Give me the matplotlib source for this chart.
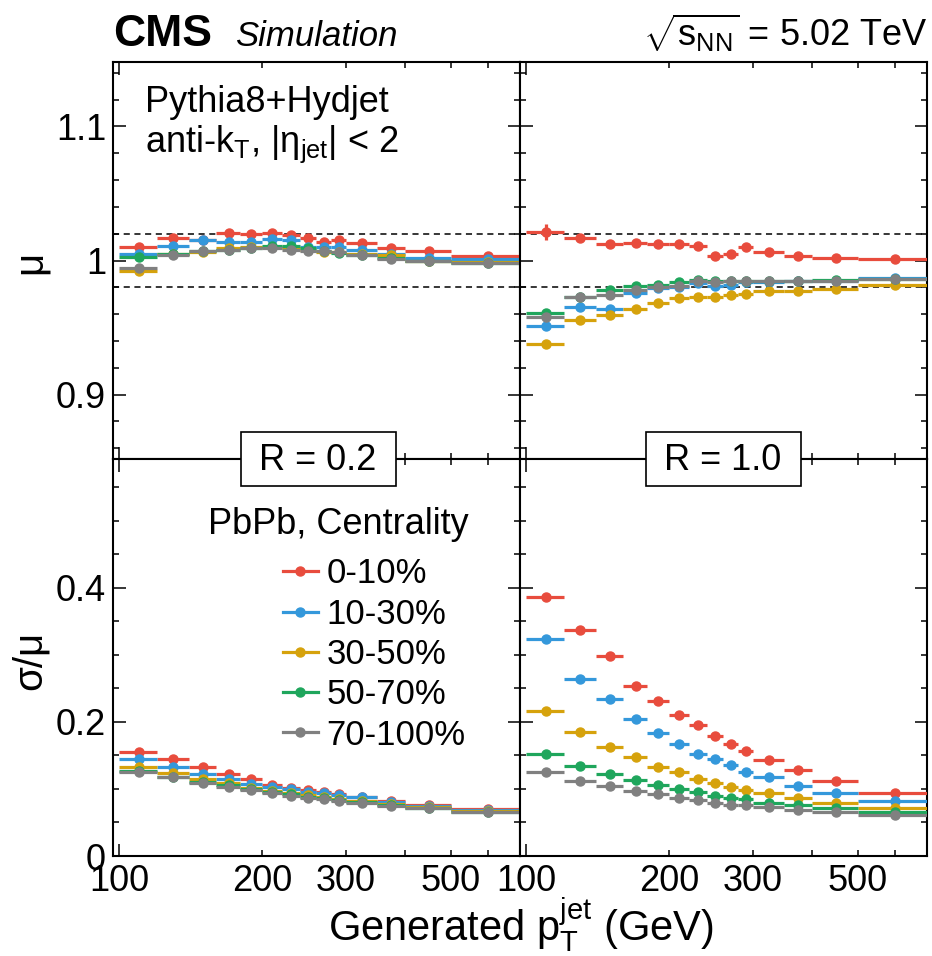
import numpy as np
import matplotlib
matplotlib.use('Agg')
import matplotlib.pyplot as plt
from matplotlib.lines import Line2D
from matplotlib.patches import Rectangle
from matplotlib.ticker import FixedLocator, FuncFormatter, MultipleLocator

plt.rcParams['font.family'] = ['Liberation Sans', 'DejaVu Sans']
plt.rcParams['mathtext.fontset'] = 'custom'
plt.rcParams['mathtext.rm'] = 'Liberation Sans'
plt.rcParams['mathtext.it'] = 'Liberation Sans:italic'
plt.rcParams['mathtext.bf'] = 'Liberation Sans:bold'

# ── data ─────────────────────────────────────────────────────────────────────
pt_edges = [100, 120, 140, 160, 180, 200, 220, 240, 260, 280, 300, 350, 400, 500, 700]
pt_centers = [110, 130, 150, 170, 190, 210, 230, 250, 270, 290, 325, 375, 450, 600]

centralities = ['0-10%', '10-30%', '30-50%', '50-70%', '70-100%']
colors = ['#e84c3d', '#3498db', '#d6a20c', '#1fa65c', '#808080']

# mean response mu, R = 0.2
mu_r02_0_10 = [1.010, 1.017, 1.0155, 1.0208, 1.0195, 1.0208, 1.019, 1.017, 1.014, 1.015, 1.013, 1.009, 1.007, 1.003]
mu_r02_10_30 = [1.0045, 1.011, 1.015, 1.014, 1.014, 1.016, 1.015, 1.010, 1.010, 1.010, 1.008, 1.005, 1.002, 1.001]
mu_r02_30_50 = [0.9925, 1.0045, 1.006, 1.009, 1.010, 1.010, 1.009, 1.0075, 1.006, 1.006, 1.005, 1.004, 1.000, 0.999]
mu_r02_50_70 = [1.0025, 1.0045, 1.007, 1.0075, 1.009, 1.011, 1.011, 1.009, 1.007, 1.0055, 1.004, 1.002, 1.000, 0.998]
mu_r02_70_100 = [0.9945, 1.004, 1.007, 1.008, 1.009, 1.009, 1.008, 1.007, 1.007, 1.006, 1.004, 1.001, 0.9995, 0.998]

# mean response mu, R = 1.0
mu_r10_0_10 = [1.021, 1.017, 1.012, 1.013, 1.012, 1.012, 1.011, 1.0035, 1.0045, 1.010, 1.006, 1.0035, 1.0018, 1.0008]
mu_r10_10_30 = [0.951, 0.965, 0.964, 0.976, 0.9795, 0.980, 0.983, 0.981, 0.982, 0.984, 0.984, 0.9845, 0.985, 0.987]
mu_r10_30_50 = [0.938, 0.9555, 0.959, 0.964, 0.9685, 0.972, 0.973, 0.973, 0.9745, 0.975, 0.9775, 0.9775, 0.979, 0.982]
mu_r10_50_70 = [0.961, 0.9725, 0.978, 0.981, 0.982, 0.984, 0.9858, 0.985, 0.985, 0.9845, 0.9845, 0.985, 0.9855, 0.986]
mu_r10_70_100 = [0.958, 0.9725, 0.9745, 0.978, 0.980, 0.981, 0.985, 0.984, 0.9845, 0.985, 0.9845, 0.985, 0.985, 0.986]
mu_r10_0_10_err = [0.006, 0.002, 0.001, 0.001, 0.001, 0.001, 0.001, 0.001, 0.001, 0.001, 0.001, 0.001, 0.001, 0.001]

# resolution sigma/mu, R = 0.2
res_r02_0_10 = [0.1548, 0.1448, 0.1324, 0.1224, 0.1149, 0.106, 0.102, 0.0985, 0.095, 0.0925, 0.0885, 0.0825, 0.076, 0.0697]
res_r02_10_30 = [0.1443, 0.1324, 0.1224, 0.1149, 0.1075, 0.1035, 0.0995, 0.096, 0.0935, 0.0905, 0.0876, 0.081, 0.0746, 0.0687]
res_r02_30_50 = [0.1333, 0.1243, 0.1149, 0.1085, 0.102, 0.0975, 0.0945, 0.0905, 0.0876, 0.085, 0.0825, 0.0776, 0.0727, 0.0676]
res_r02_50_70 = [0.1269, 0.1184, 0.111, 0.106, 0.100, 0.096, 0.0925, 0.0885, 0.086, 0.0836, 0.0806, 0.0761, 0.0711, 0.0661]
res_r02_70_100 = [0.1249, 0.1174, 0.1094, 0.1035, 0.0985, 0.0945, 0.0896, 0.0861, 0.085, 0.0825, 0.0796, 0.0751, 0.0721, 0.0661]

# resolution sigma/mu, R = 1.0
res_r10_0_10 = [0.387, 0.337, 0.2985, 0.254, 0.2313, 0.2104, 0.195, 0.1796, 0.1672, 0.1567, 0.1438, 0.128, 0.1124, 0.0935]
res_r10_10_30 = [0.3239, 0.2637, 0.2348, 0.204, 0.1836, 0.1677, 0.1522, 0.1448, 0.1358, 0.1254, 0.1184, 0.105, 0.094, 0.0826]
res_r10_30_50 = [0.2159, 0.185, 0.1632, 0.1483, 0.1328, 0.1249, 0.1149, 0.1095, 0.103, 0.099, 0.0935, 0.0866, 0.0786, 0.0711]
res_r10_50_70 = [0.1517, 0.1348, 0.1224, 0.1129, 0.1065, 0.100, 0.095, 0.090, 0.0866, 0.0846, 0.0796, 0.0761, 0.0711, 0.0662]
res_r10_70_100 = [0.1254, 0.1124, 0.1045, 0.0975, 0.092, 0.0871, 0.0836, 0.0796, 0.0766, 0.0756, 0.0736, 0.0687, 0.0662, 0.0612]

mu_r02 = [mu_r02_0_10, mu_r02_10_30, mu_r02_30_50, mu_r02_50_70, mu_r02_70_100]
mu_r10 = [mu_r10_0_10, mu_r10_10_30, mu_r10_30_50, mu_r10_50_70, mu_r10_70_100]
res_r02 = [res_r02_0_10, res_r02_10_30, res_r02_30_50, res_r02_50_70, res_r02_70_100]
res_r10 = [res_r10_0_10, res_r10_10_30, res_r10_30_50, res_r10_50_70, res_r10_70_100]

# ── figure ───────────────────────────────────────────────────────────────────
W, H = 932, 956
fig = plt.figure(figsize=(W / 100, H / 100), dpi=100)

x0, xm, x1 = 113 / W, 520 / W, 927 / W
yt, ym, yb = 1 - 62 / H, 1 - 459 / H, 1 - 856 / H
ax_tl = fig.add_axes([x0, ym, xm - x0, yt - ym])
ax_tr = fig.add_axes([xm, ym, x1 - xm, yt - ym])
ax_bl = fig.add_axes([x0, yb, xm - x0, ym - yb])
ax_br = fig.add_axes([xm, yb, x1 - xm, ym - yb])

x = np.array(pt_centers)
edges = np.array(pt_edges)
xerr = [x - edges[:-1], edges[1:] - x]

FS = 26
ms, elw = 6.5, 2.3


def draw(ax, series, yerrs=None):
    for i, (vals, c) in enumerate(zip(series, colors)):
        yerr = yerrs[i] if yerrs is not None else None
        ax.errorbar(x, vals, xerr=xerr, yerr=yerr, fmt='o', color=c, ms=ms,
                    elinewidth=elw, capsize=0, zorder=3 + i)


draw(ax_tl, mu_r02)
draw(ax_tr, mu_r10, [mu_r10_0_10_err, None, None, None, None])
draw(ax_bl, res_r02)
draw(ax_br, res_r10)

for ax in (ax_tl, ax_tr):
    ax.axhline(1.02, color='black', lw=1.1, ls=(0, (4, 3)), zorder=1)
    ax.axhline(0.98, color='black', lw=1.1, ls=(0, (4, 3)), zorder=1)
    ax.set_ylim(0.852, 1.148)
    ax.yaxis.set_major_locator(MultipleLocator(0.1))
    ax.yaxis.set_minor_locator(MultipleLocator(0.02))

for ax in (ax_bl, ax_br):
    ax.set_ylim(0, 0.5925)
    ax.yaxis.set_major_locator(MultipleLocator(0.2))
    ax.yaxis.set_minor_locator(MultipleLocator(0.05))

minor_fmt = FuncFormatter(lambda v, _: f'{v:g}' if round(v) in (200, 300, 500) else '')
for ax in (ax_tl, ax_tr, ax_bl, ax_br):
    ax.set_xscale('log')
    ax.set_xlim(97, 700)
    ax.xaxis.set_major_locator(FixedLocator([100]))
    ax.xaxis.set_minor_locator(FixedLocator([200, 300, 400, 500, 600, 700]))
    ax.xaxis.set_major_formatter(FuncFormatter(lambda v, _: f'{v:g}'))
    ax.xaxis.set_minor_formatter(minor_fmt)
    ax.yaxis.set_major_formatter(FuncFormatter(lambda v, _: f'{v:g}'))
    ax.tick_params(which='both', direction='in', top=True, right=True,
                   labelsize=FS, width=1.1)
    ax.tick_params(which='major', length=9)
    ax.tick_params(which='minor', length=4.5)
    ax.tick_params(axis='x', which='both', pad=6)
    ax.tick_params(axis='y', which='both', pad=5)
    for s in ax.spines.values():
        s.set_linewidth(1.5)

for ax in (ax_tl, ax_tr):
    ax.tick_params(axis='x', which='both', labelbottom=False)
for ax in (ax_tr, ax_br):
    ax.tick_params(axis='y', which='both', labelleft=False)

# axis titles
fig.text(30 / W, 1 - 262 / H, 'μ', fontsize=FS + 3, rotation=90, ha='center', va='center')
fig.text(30 / W, 1 - 660 / H, 'σ/μ', fontsize=FS + 3, rotation=90, ha='center', va='center')
fig.text(521 / W, 1 - 941 / H, r'Generated $\mathregular{p_{T}^{jet}}$ (GeV)', fontsize=FS + 4,
         ha='center', va='baseline')

# header
fig.text(113 / W, 1 - 46 / H, 'CMS', fontsize=32, fontweight='bold', ha='left', va='baseline')
fig.text(235 / W, 1 - 46 / H, 'Simulation', fontsize=25, style='italic', ha='left', va='baseline')
fig.text(927 / W, 1 - 46 / H, r'$\sqrt{\mathregular{s_{NN}}}$ = 5.02 TeV', fontsize=FS,
         ha='right', va='baseline')

# panel texts
ax_tl.text(0.079, 0.898, 'Pythia8+Hydjet', transform=ax_tl.transAxes, fontsize=FS,
           ha='left', va='center')
ax_tl.text(0.079, 0.792, r'anti-k$_{\mathregular{T}}$, |η$_{\mathregular{jet}}$| < 2',
           transform=ax_tl.transAxes, fontsize=FS, ha='left', va='center')

for cx, label in ((318, 'R = 0.2'), (723, 'R = 1.0')):
    fig.patches.append(Rectangle(((cx - 77) / W, 1 - 486 / H), 155 / W, 54 / H,
                                 transform=fig.transFigure, facecolor='white',
                                 edgecolor='black', lw=1.2, zorder=10))
    fig.text(cx / W, 1 - 460 / H, label, fontsize=FS, ha='center', va='center', zorder=11)

# legend
ax_bl.text(0.233, 0.836, 'PbPb, Centrality', transform=ax_bl.transAxes, fontsize=FS,
           ha='left', va='center')
handles = [Line2D([], [], color=c, marker='o', ms=ms, lw=elw) for c in colors]
ax_bl.legend(handles, centralities, loc='upper left', bbox_to_anchor=(0.418, 0.752),
             frameon=False, fontsize=FS - 1, handlelength=1.0, handletextpad=0.25,
             labelspacing=0.21, borderpad=0, borderaxespad=0)

fig.savefig('out.png', dpi=100)
